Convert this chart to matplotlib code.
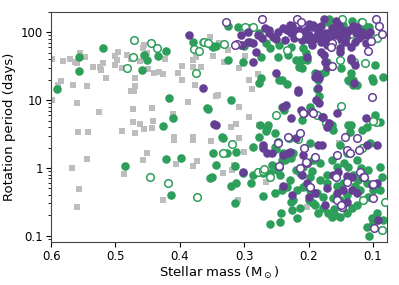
import numpy as np
import matplotlib.pyplot as plt
from matplotlib.ticker import FuncFormatter

# grey squares
gray_m = [0.581, 0.570, 0.563, 0.560, 0.555, 0.547, 0.535, 0.524, 0.522, 0.519, 0.515, 0.589, 0.584,
          0.598, 0.566, 0.544, 0.560, 0.525, 0.558, 0.543, 0.598, 0.500, 0.496, 0.497, 0.500, 0.490,
          0.482, 0.476, 0.462, 0.470, 0.470, 0.476, 0.471, 0.473, 0.473, 0.462, 0.456, 0.443, 0.442,
          0.443, 0.490, 0.470, 0.456, 0.457, 0.451, 0.450, 0.440, 0.432, 0.426, 0.423, 0.411, 0.409,
          0.403, 0.397, 0.397, 0.387, 0.380, 0.380, 0.380, 0.376, 0.375, 0.367, 0.353, 0.348, 0.344,
          0.339, 0.325, 0.331, 0.308, 0.299, 0.292, 0.279, 0.288, 0.341, 0.308, 0.292, 0.313, 0.320,
          0.567, 0.544, 0.557, 0.560, 0.487, 0.457, 0.451, 0.426, 0.406, 0.380, 0.373, 0.409, 0.380,
          0.352, 0.308, 0.300, 0.333, 0.319, 0.316, 0.266, 0.310, 0.277, 0.202, 0.153, 0.188, 0.176]
gray_p = [38, 41, 37, 35, 50, 44, 31, 31, 28, 35, 21, 17, 19,
          41, 17, 16, 9.1, 6.7, 3.4, 3.4, 10, 45, 52, 39, 33, 30,
          47, 41, 38, 21, 16, 13.7, 13.7, 7.4, 4.8, 4.5, 3.8, 7.7, 4.9,
          3.9, 3.5, 3.3, 66, 59, 50, 29, 25, 26, 24, 41, 6.3, 2.9,
          25, 32, 20, 9.4, 2.9, 39, 31, 17, 44, 31, 86, 45, 11.6,
          70, 55, 37, 30, 45, 20, 24, 14.7, 12, 8, 5.7, 4.5, 4,
          1.0, 1.36, 0.49, 0.27, 0.82, 1.31, 1.67, 0.34, 1.15, 1.07, 1.27, 2.6, 2.6,
          2.5, 2.8, 1.72, 0.84, 0.93, 1.1, 0.62, 0.34, 4.3, 0.27, 2.3, 0.44, 0.37]

# green filled circles
green_m = [0.591, 0.557, 0.557, 0.519, 0.456, 0.451, 0.459, 0.434, 0.421, 0.417, 0.411, 0.426, 0.380,
           0.350, 0.344, 0.356, 0.325, 0.310, 0.292, 0.277, 0.266, 0.246, 0.232, 0.227, 0.220, 0.215,
           0.325, 0.305, 0.300, 0.274, 0.274, 0.277, 0.246, 0.234, 0.320, 0.238, 0.263, 0.275, 0.241,
           0.210, 0.204, 0.175, 0.181, 0.134, 0.131, 0.137, 0.100, 0.097, 0.084, 0.187, 0.184, 0.198,
           0.210, 0.134, 0.164, 0.119, 0.114, 0.106, 0.168,
           0.302, 0.241, 0.213, 0.210, 0.190, 0.185, 0.171, 0.149, 0.139, 0.131, 0.125, 0.102, 0.358,
           0.265, 0.335, 0.162, 0.139, 0.136, 0.117, 0.109, 0.105, 0.089, 0.213, 0.226, 0.170, 0.147,
           0.133, 0.109, 0.364, 0.348, 0.260, 0.291, 0.248, 0.202, 0.209, 0.097,
           0.485, 0.421, 0.398, 0.414, 0.353, 0.344, 0.350, 0.314, 0.320, 0.313, 0.314, 0.302, 0.286,
           0.279, 0.271, 0.260, 0.257, 0.249, 0.244, 0.252, 0.241, 0.233, 0.260, 0.244, 0.226, 0.218,
           0.213, 0.200, 0.193, 0.185, 0.178, 0.170, 0.164, 0.159, 0.151, 0.140, 0.133, 0.125, 0.115,
           0.108, 0.100, 0.109, 0.106, 0.101, 0.094, 0.086, 0.084, 0.089, 0.086, 0.108, 0.125, 0.120,
           0.140, 0.151, 0.162, 0.178, 0.187, 0.198, 0.209, 0.218, 0.224, 0.229, 0.213, 0.209, 0.198,
           0.193, 0.182, 0.164, 0.156, 0.139, 0.131, 0.123, 0.109, 0.100, 0.089, 0.182, 0.171, 0.147,
           0.140, 0.151, 0.198, 0.224, 0.240, 0.252, 0.286, 0.327, 0.348, 0.241, 0.333, 0.277, 0.266,
           0.252, 0.289, 0.271, 0.243, 0.227, 0.227, 0.220, 0.333, 0.313,
           0.195, 0.172, 0.155, 0.145, 0.128, 0.118, 0.205, 0.236, 0.190, 0.160, 0.250]
green_p = [14.6, 27, 44, 59, 47, 39, 28, 45, 53, 10.8, 5.5, 4.2, 73,
           63, 63, 7.4, 125, 120, 117, 99, 70, 65, 47, 61, 39, 31,
           39, 65, 63, 44, 21, 18, 20, 17.5, 10, 7.2, 4.3, 4.3, 7.9,
           39, 50, 26, 24, 25, 20, 19, 19, 33, 22, 14.7, 11.6, 8,
           5.1, 4.3, 4.3, 140, 125, 120, 155,
           36, 20, 39, 30, 25, 20, 36, 30, 20, 17, 17, 21, 7.7,
           3.9, 2.9, 3.6, 4.3, 3.4, 3.6, 4.0, 2.3, 4.8, 100, 120, 140, 130,
           145, 120, 73, 61, 59, 73, 44, 39, 59, 6,
           1.07, 1.36, 1.4, 0.4, 0.71, 1.1, 0.74, 1.07, 0.54, 0.6, 0.30, 0.84, 0.79,
           0.87, 0.84, 0.84, 1.1, 0.93, 0.79, 0.43, 0.47, 0.52, 0.15, 0.16, 0.24, 0.18,
           0.26, 0.34, 0.30, 0.22, 0.26, 0.22, 0.19, 0.2, 0.19, 0.22, 0.26, 0.28, 0.34,
           0.37, 0.154, 0.135, 0.10, 0.18, 0.22, 0.12, 0.17, 1.03, 0.74, 0.93, 1.31, 0.47,
           0.4, 0.34, 0.36, 0.37, 0.43, 0.47, 0.52, 0.47, 0.34, 0.66, 0.84, 1.03, 0.74,
           1.31, 1.19, 1.31, 1.03, 1.03, 0.79, 0.66, 0.6, 0.47, 0.47, 0.66, 0.6, 0.6,
           1.67, 2.2, 2.35, 1.67, 1.67, 2.04, 2.04, 1.67, 1.67, 1.31, 2.8, 2.9, 3.5,
           3.3, 0.6, 0.39, 0.22, 0.31, 1.4, 0.93, 1.67, 1.72,
           0.9, 0.8, 0.55, 1.2, 0.55, 1.0, 0.55, 1.3, 0.28, 0.25, 1.9]

# green open circles
green_open_m = [0.471, 0.482, 0.473, 0.445, 0.436, 0.378, 0.375, 0.370, 0.362, 0.356, 0.331, 0.299,
                0.286, 0.234, 0.251, 0.148, 0.117, 0.148, 0.133, 0.094, 0.151, 0.130, 0.112, 0.150,
                0.095, 0.173, 0.187, 0.100, 0.446, 0.418, 0.373, 0.333, 0.319, 0.279, 0.271, 0.260,
                0.117, 0.086, 0.081, 0.115, 0.269, 0.246, 0.248, 0.230, 0.216]
green_open_p = [78, 30, 44, 70, 59, 57, 25, 53, 73, 70, 68, 120,
                120, 55, 6.1, 160, 143, 75, 75, 83, 39, 36, 35, 8.2,
                4.8, 4.6, 6.1, 5, 0.74, 0.6, 0.37, 1.67, 2.26, 0.87, 0.9, 0.74,
                2.0, 0.12, 0.31, 0.34, 0.97, 1.03, 2.4, 2.8, 2.7]

# purple filled circles
purple_m = [0.386, 0.364, 0.347, 0.305, 0.294, 0.286, 0.282, 0.286, 0.251, 0.247, 0.240, 0.255, 0.261,
            0.227, 0.223, 0.216, 0.235, 0.227, 0.344,
            0.176, 0.195, 0.184, 0.164, 0.153, 0.137, 0.126, 0.204, 0.215, 0.199, 0.188, 0.173, 0.157,
            0.142, 0.122, 0.111, 0.210, 0.181, 0.202, 0.181, 0.176, 0.134, 0.134, 0.130, 0.187, 0.184,
            0.188, 0.184, 0.212, 0.207, 0.179, 0.111, 0.168,
            0.167, 0.148, 0.117, 0.193, 0.158, 0.143, 0.128, 0.209, 0.272, 0.268, 0.294, 0.237, 0.229,
            0.104, 0.151, 0.195, 0.171, 0.303, 0.171, 0.175, 0.151, 0.134, 0.128, 0.190, 0.185, 0.240,
            0.271, 0.178, 0.156, 0.171, 0.094, 0.216, 0.198, 0.183, 0.160, 0.120, 0.205, 0.190,
            0.221, 0.212, 0.200, 0.192, 0.180, 0.170, 0.162, 0.150, 0.140, 0.131, 0.115, 0.250, 0.262,
            0.233, 0.186, 0.166, 0.146, 0.196, 0.176, 0.157, 0.139, 0.125, 0.108, 0.278, 0.226, 0.203,
            0.271, 0.257, 0.232, 0.302, 0.226, 0.200, 0.190, 0.175, 0.162, 0.154, 0.140, 0.133, 0.125,
            0.140, 0.151, 0.109, 0.185, 0.179, 0.210, 0.202, 0.171, 0.156, 0.147, 0.133, 0.102, 0.094,
            0.092, 0.209, 0.240, 0.265, 0.229, 0.220, 0.240]
purple_p = [90, 15, 4.5, 92, 100, 70, 52, 36, 25, 100, 117, 86, 99,
            99, 83, 13.3, 8.5, 5.5, 4.3,
            155, 120, 110, 117, 130, 110, 99, 110, 110, 92, 86, 99, 92,
            86, 83, 70, 78, 73, 44, 52, 47, 61, 42, 18, 24, 21,
            10, 9.1, 7.2, 6.5, 5.7, 5.5, 4.6,
            83, 110, 100, 130, 145, 73, 73, 100, 83, 117, 73, 78, 130,
            100, 59, 66, 66, 66, 31, 36, 52, 39, 33, 22, 15, 7.9,
            2.0, 5.7, 6.5, 4.0, 2.2, 14, 125, 95, 105, 88, 90, 120,
            95, 85, 135, 80, 125, 90, 105, 80, 100, 125, 90, 80, 110,
            108, 100, 90, 95, 75, 78, 125, 105, 120, 90, 92, 125, 80,
            2.2, 1.67, 1.67, 0.87, 0.40, 0.37, 0.43, 0.28, 0.79, 0.87, 0.76, 0.47, 0.43,
            0.31, 0.30, 2.2, 2.2, 2.2, 0.79, 0.6, 0.5, 0.43, 0.47, 0.74, 0.56, 0.6,
            0.17, 1.56, 1.56, 1.67, 1.72, 2.8, 0.54]

# purple open circles
purple_open_m = [0.328, 0.272, 0.218, 0.311, 0.095, 0.091, 0.086, 0.164, 0.165, 0.108, 0.164, 0.102,
                 0.195, 0.212, 0.215, 0.103, 0.246, 0.202, 0.190, 0.213, 0.156, 0.140, 0.136, 0.120,
                 0.115, 0.100, 0.156, 0.148, 0.198, 0.100, 0.098, 0.248, 0.140, 0.232, 0.213, 0.143,
                 0.125, 0.193, 0.314, 0.209, 0.122, 0.207, 0.204, 0.158, 0.149, 0.114]
purple_open_p = [140, 160, 160, 68, 160, 125, 95, 70, 61, 53, 32, 11,
                 6.7, 140, 92, 75, 1.07, 1.19, 1.45, 1.0, 1.56, 1.85, 1.67, 0.87,
                 0.74, 0.58, 0.34, 0.27, 0.52, 0.36, 0.13, 2.35, 0.62, 2.9, 3.3, 2.9,
                 2.8, 6.5, 65, 6.5, 1.85, 2.0, 1.23, 0.74, 0.28, 0.74]

green = '#2e9e5b'
purple = '#653f94'
grey = '#bdbdbd'

fig = plt.figure(figsize=(3.99, 2.85), dpi=100)
ax = fig.add_axes([0.128, 0.151, 0.842, 0.807])

ax.scatter(gray_m, gray_p, marker='s', s=18, color=grey, linewidths=0, zorder=1)
ax.scatter(green_m, green_p, marker='o', s=38, color=green, linewidths=0, zorder=2)
ax.scatter(green_open_m, green_open_p, marker='o', s=30, facecolors='white',
           edgecolors=green, linewidths=1.1, zorder=3)
ax.scatter(purple_m, purple_p, marker='o', s=38, color=purple, linewidths=0, zorder=4)
ax.scatter(purple_open_m, purple_open_p, marker='o', s=30, facecolors='white',
           edgecolors=purple, linewidths=1.1, zorder=5)

ax.set_yscale('log')
ax.set_xlim(0.6, 0.078)
ax.set_ylim(0.081, 200)
ax.set_xticks([0.6, 0.5, 0.4, 0.3, 0.2, 0.1])
ax.xaxis.set_major_formatter(FuncFormatter(lambda v, p: '%.1f' % v))
ax.yaxis.set_major_formatter(FuncFormatter(lambda v, p: '%g' % v))
ax.tick_params(labelsize=8.5, pad=2.5)
for sp in ax.spines.values():
    sp.set_color('#444444')

ax.set_xlabel(r'Stellar mass (M$_\odot$)', fontsize=9.5, labelpad=1)
ax.set_ylabel('Rotation period (days)', fontsize=9.5, labelpad=3)

fig.savefig('out.png', dpi=100)
